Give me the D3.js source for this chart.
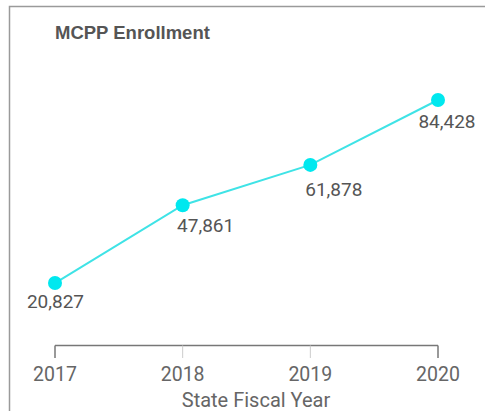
<!DOCTYPE html>
<html>
<head>
<meta charset="utf-8">
<script src="https://cdn.jsdelivr.net/npm/d3@7"></script>
<style>
  body { margin: 0; background: #fff; }
  svg { display: block; font-family: Roboto, "Open Sans", sans-serif; }
</style>
</head>
<body>
<svg id="chart" width="485" height="411"></svg>
<script>
// data
const years = ['2017', '2018', '2019', '2020'];
const enrollment = [20827, 47861, 61878, 84428];
const labelText = ['20,827', '47,861', '61,878', '84,428'];

const svg = d3.select('#chart');

// panel border (left + top, runs off the right/bottom)
svg.append('rect')
    .attr('x', 9.5).attr('y', 6.5)
    .attr('width', 490).attr('height', 420)
    .attr('fill', 'none')
    .attr('stroke', '#9a9a9a')
    .attr('stroke-width', 1.5);

svg.append('text')
    .attr('x', 55).attr('y', 39)
    .attr('font-family', '"Liberation Sans", Arial, sans-serif')
    .attr('font-size', 18.5)
    .attr('font-weight', 'bold')
    .attr('fill', '#555')
    .text('MCPP Enrollment');

const x = d3.scalePoint()
    .domain(years)
    .range([55, 438]);

const y = d3.scaleLinear()
    .domain([0, 84428])
    .range([343, 100]);

// x axis
const axisY = 345.5;
const g = svg.append('g');
g.append('line')
    .attr('x1', x(years[0])).attr('x2', x(years[years.length - 1]))
    .attr('y1', axisY).attr('y2', axisY)
    .attr('stroke', '#777').attr('stroke-width', 1.5);

g.selectAll('.tick')
    .data(years)
    .enter()
    .append('line')
    .attr('x1', d => x(d)).attr('x2', d => x(d))
    .attr('y1', axisY).attr('y2', axisY + 12.5)
    .attr('stroke', (d, i) => (i === 0 || i === years.length - 1) ? '#777' : '#ccc')
    .attr('stroke-width', (d, i) => (i === 0 || i === years.length - 1) ? 1.5 : 1);

g.selectAll('.tlabel')
    .data(years)
    .enter()
    .append('text')
    .attr('x', d => x(d))
    .attr('y', 381)
    .attr('text-anchor', 'middle')
    .attr('font-size', 19.5)
    .attr('fill', '#666')
    .text(d => d);

svg.append('text')
    .attr('x', 256).attr('y', 407)
    .attr('text-anchor', 'middle')
    .attr('font-size', 20)
    .attr('fill', '#666')
    .text('State Fiscal Year');

// line + dots
const pts = years.map((d, i) => ({ year: d, value: enrollment[i], label: labelText[i] }));

svg.append('path')
    .datum(pts)
    .attr('fill', 'none')
    .attr('stroke', '#3fe3e6')
    .attr('stroke-width', 2)
    .attr('d', d3.line().x(d => x(d.year)).y(d => y(d.value)));

svg.selectAll('.dot')
    .data(pts)
    .enter()
    .append('circle')
    .attr('cx', d => x(d.year))
    .attr('cy', d => y(d.value))
    .attr('r', 7)
    .attr('fill', '#00e8ef');

// value labels, nudged the way the original tool placed them
const labelDx = [0.5, 23, 23.5, 9];
const labelDy = [25, 27, 31, 28];
svg.selectAll('.vlabel')
    .data(pts)
    .enter()
    .append('text')
    .attr('x', (d, i) => x(d.year) + labelDx[i])
    .attr('y', (d, i) => y(d.value) + labelDy[i])
    .attr('text-anchor', 'middle')
    .attr('font-size', 19)
    .attr('fill', '#555')
    .text(d => d.label);
</script>
</body>
</html>
